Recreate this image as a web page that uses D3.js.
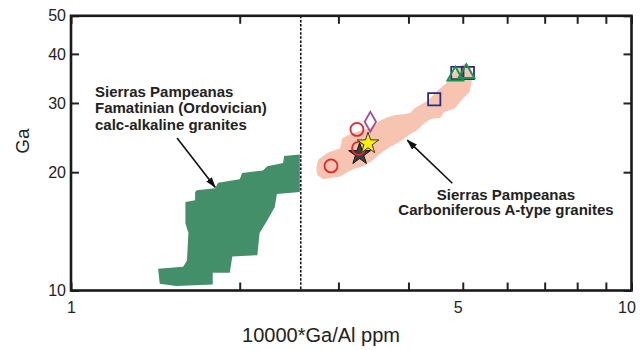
<!DOCTYPE html>
<html>
<head>
<meta charset="utf-8">
<script src="https://cdn.jsdelivr.net/npm/d3@7"></script>
<style>
  html, body { margin: 0; padding: 0; background: #fff; }
  svg { display: block; font-family: "Liberation Sans", Arial, Helvetica, sans-serif; }
</style>
</head>
<body>
<svg id="chart" width="644" height="350"></svg>
<script>
// Axis domains and ticks (log–log diagram, 10000*Ga/Al vs Ga)
const xDomain = [1, 10];
const yDomain = [10, 50];
const xTickValues = [1, 2, 3, 4, 5, 6, 7, 8, 9, 10];
const xTickLabels = [1, 5, 10];
const yTickValues = [10, 20, 30, 40, 50];

// Boundary between fields (10000*Ga/Al)
const dividerX = 2.57;

// Field outlines, vertices as [10000*Ga/Al, Ga]
const famatinianField = [
  [1.665, 17.8], [1.677, 18.0], [1.808, 18.2], [1.83, 18.8], [2.0, 19.2], [2.02, 19.9],
  [2.2, 20.2], [2.24, 20.7], [2.39, 21.1], [2.40, 22.0], [2.56, 22.2],
  [2.56, 17.8], [2.33, 17.6], [2.31, 16.3], [2.24, 15.1], [2.17, 14.0], [2.15, 12.3],
  [1.94, 12.2], [1.92, 11.1], [1.79, 11.1], [1.79, 10.36], [1.54, 10.26], [1.44, 10.4],
  [1.43, 11.36], [1.585, 11.5], [1.61, 11.9], [1.62, 14.0], [1.60, 14.8], [1.60, 16.8],
  [1.665, 16.96]
];
const carboniferousField = [
  [2.74, 20.5], [2.76, 21.5], [2.87, 22.4], [3.02, 23.0], [3.05, 24.4], [3.15, 25.0],
  [3.28, 25.5], [3.38, 25.8], [3.45, 26.1], [3.55, 27.0], [3.67, 27.6], [3.79, 27.95],
  [3.92, 28.1], [4.03, 28.3], [4.10, 29.1], [4.20, 29.65], [4.34, 30.5], [4.50, 32.2],
  [4.69, 33.9], [4.81, 35.6], [4.91, 37.1], [5.03, 37.7], [5.16, 37.1], [5.20, 35.6],
  [5.18, 33.7], [5.14, 32.0], [4.97, 30.5], [4.83, 29.0], [4.64, 28.5], [4.56, 27.5],
  [4.38, 27.3], [4.25, 26.5], [4.15, 25.6], [4.03, 25.0], [3.92, 24.3], [3.82, 23.7],
  [3.71, 23.2], [3.61, 22.6], [3.52, 22.0], [3.43, 21.3], [3.32, 20.7], [3.20, 20.4],
  [3.11, 20.0], [3.02, 19.5], [2.94, 19.4], [2.82, 19.2], [2.75, 19.65]
];

// Sample groups, points as [10000*Ga/Al, Ga]
const circleSamples   = [[2.91, 20.75], [3.237, 25.7], [3.259, 23.0]];
const darkStarSamples = [[3.273, 22.23]];
const yellowStarSamples = [[3.388, 23.67]];
const diamondSamples  = [[3.42, 26.88]];
const squareSamples   = [[4.447, 30.65], [4.89, 35.78], [5.106, 35.78]];
const triangleSamples = [[4.85, 35.15], [5.075, 35.67]];

// Annotation arrows: [from, to] in data coordinates
const famatinianArrow = [[1.546, 24.42], [1.808, 18.31]];
const carboniferousArrow = [[4.79, 18.75], [3.981, 24.13]];

const famatinianLabel = ["Sierras Pampeanas", "Famatinian (Ordovician)", "calc-alkaline granites"];
const carboniferousLabel = ["Sierras Pampeanas", "Carboniferous A-type granites"];

const svg = d3.select("#chart");
const plotLeft = 71, plotRight = 631.5, plotTop = 15.8, plotBottom = 290.5;

const x = d3.scaleLog().domain(xDomain).range([plotLeft, plotRight]);
const y = d3.scaleLog().domain(yDomain).range([plotBottom, plotTop]);

const defs = svg.append("defs");
defs.append("marker")
  .attr("id", "arrowhead")
  .attr("markerUnits", "userSpaceOnUse")
  .attr("markerWidth", 11).attr("markerHeight", 8)
  .attr("refX", 10).attr("refY", 3.5)
  .attr("orient", "auto")
  .append("path").attr("d", "M0,0 L11,3.5 L0,7 Z").attr("fill", "#111");

const line = d3.line().x(d => x(d[0])).y(d => y(d[1])).curve(d3.curveLinearClosed);

// Fields
svg.append("path").datum(famatinianField)
  .attr("d", line).attr("fill", "#438f69");
svg.append("path").datum(carboniferousField)
  .attr("d", line).attr("fill", "#f7c4b2");

// Dashed divider
svg.append("line")
  .attr("x1", x(dividerX)).attr("x2", x(dividerX))
  .attr("y1", y(yDomain[1])).attr("y2", y(yDomain[0]))
  .attr("stroke", "#111").attr("stroke-width", 1.6)
  .attr("stroke-dasharray", "2.5,1.6");

// Axes with inward ticks on all four sides
const axisStyle = g => {
  g.select(".domain").remove();
  g.selectAll(".tick line").attr("stroke", "#222").attr("stroke-width", 2);
  g.selectAll(".tick text").attr("fill", "#222").style("font-size", "16px");
};

svg.append("g").attr("transform", `translate(0,${plotBottom})`)
  .call(d3.axisBottom(x).tickValues(xTickValues).tickSizeInner(-8).tickSizeOuter(0).tickPadding(11)
    .tickFormat(d => xTickLabels.includes(d) ? String(d) : ""))
  .call(axisStyle)
  .call(g => g.selectAll(".tick text").attr("dx", d => d === 1 ? 0 : -5));

svg.append("g").attr("transform", `translate(0,${plotTop})`)
  .call(d3.axisTop(x).tickValues(xTickValues).tickSizeInner(-8).tickSizeOuter(0).tickFormat(""))
  .call(axisStyle);

svg.append("g").attr("transform", `translate(${plotLeft},0)`)
  .call(d3.axisLeft(y).tickValues(yTickValues).tickSizeInner(-8).tickSizeOuter(0).tickPadding(5)
    .tickFormat(d3.format("d")))
  .call(axisStyle);

svg.append("g").attr("transform", `translate(${plotRight},0)`)
  .call(d3.axisRight(y).tickValues(yTickValues).tickSizeInner(-8).tickSizeOuter(0).tickFormat(""))
  .call(axisStyle);

// Frame
svg.append("rect")
  .attr("x", plotLeft).attr("y", plotTop)
  .attr("width", plotRight - plotLeft).attr("height", plotBottom - plotTop)
  .attr("fill", "none").attr("stroke", "#1a1a1a").attr("stroke-width", 2.6);

// Axis titles
svg.append("text")
  .attr("x", (240 + 402) / 2).attr("y", 342)
  .attr("text-anchor", "middle").attr("fill", "#222")
  .style("font-size", "20px")
  .text("10000*Ga/Al ppm");

svg.append("text")
  .attr("transform", "translate(29,141) rotate(-90)")
  .attr("text-anchor", "middle").attr("fill", "#222")
  .style("font-size", "19px")
  .text("Ga");

// Sample symbols
const sym = (type, size) => d3.symbol().type(type).size(size)();
const place = d => `translate(${x(d[0])},${y(d[1])})`;

svg.selectAll(".dark-star").data(darkStarSamples).join("path")
  .attr("class", "dark-star").attr("transform", place)
  .attr("d", sym(d3.symbolStar, 150))
  .attr("fill", "#3d3d3d").attr("stroke", "#111").attr("stroke-width", 1);

svg.selectAll(".circle").data(circleSamples).join("path")
  .attr("class", "circle").attr("transform", place)
  .attr("d", sym(d3.symbolCircle, 133))
  .attr("fill", "none").attr("stroke", "#e2262a").attr("stroke-width", 1.8);

svg.selectAll(".yellow-star").data(yellowStarSamples).join("path")
  .attr("class", "yellow-star").attr("transform", place)
  .attr("d", sym(d3.symbolStar, 145))
  .attr("fill", "#fff200").attr("stroke", "#333").attr("stroke-width", 1);

svg.selectAll(".diamond").data(diamondSamples).join("path")
  .attr("class", "diamond").attr("transform", place)
  .attr("d", sym(d3.symbolDiamond, 112))
  .attr("fill", "none").attr("stroke", "#9d4f95").attr("stroke-width", 1.8);

svg.selectAll(".square").data(squareSamples).join("path")
  .attr("class", "square").attr("transform", place)
  .attr("d", sym(d3.symbolSquare, 150))
  .attr("fill", "none").attr("stroke", "#2b2a85").attr("stroke-width", 1.8);

svg.selectAll(".triangle").data(triangleSamples).join("path")
  .attr("class", "triangle").attr("transform", place)
  .attr("d", sym(d3.symbolTriangle, 110))
  .attr("fill", "none").attr("stroke", "#17944a").attr("stroke-width", 1.9);

// Annotations
[famatinianArrow, carboniferousArrow].forEach(a => {
  svg.append("line")
    .attr("x1", x(a[0][0])).attr("y1", y(a[0][1]))
    .attr("x2", x(a[1][0])).attr("y2", y(a[1][1]))
    .attr("stroke", "#111").attr("stroke-width", 1.6)
    .attr("marker-end", "url(#arrowhead)");
});

const famText = svg.append("text")
  .attr("fill", "#222").style("font-size", "15px").style("font-weight", "bold");
famatinianLabel.forEach((s, i) => {
  famText.append("tspan").attr("x", 95).attr("y", 96.5 + i * 16.5).text(s);
});

const carbText = svg.append("text")
  .attr("fill", "#222").style("font-size", "15px").style("font-weight", "bold")
  .attr("text-anchor", "middle");
carboniferousLabel.forEach((s, i) => {
  carbText.append("tspan").attr("x", 506).attr("y", 199.5 + i * 15.8).text(s);
});
</script>
</body>
</html>
